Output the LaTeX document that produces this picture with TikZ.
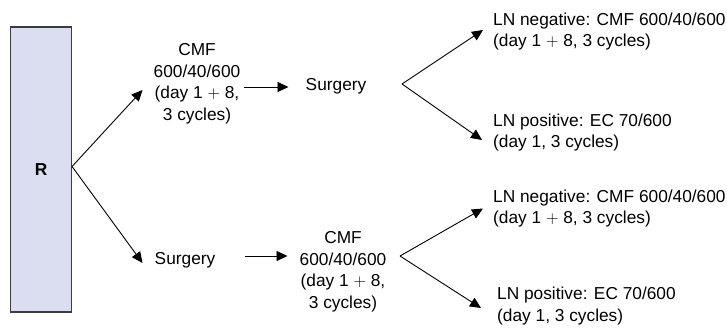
\documentclass[tikz,border=0pt]{standalone}
\usepackage{fontspec}
\setmainfont{Liberation Sans}
\usetikzlibrary{arrows.meta}
\definecolor{rfill}{RGB}{219,222,240}
\definecolor{rline}{RGB}{60,60,60}

\begin{document}
\begin{tikzpicture}[x=1pt, y=-1pt, >={Triangle[length=11pt,width=10pt]},
    every node/.style={font=\fontsize{17.3}{21.5}\selectfont, inner sep=2pt},
    step box/.style={align=center},
    result/.style={align=left, anchor=west},
    arm/.style={->, line width=0.9pt}]
        \useasboundingbox (0,0) rectangle (727,332);

        \node[draw=rline, line width=1.1pt, fill=rfill, minimum width=61pt, minimum height=285pt] (R) at (41,169.5) {\textbf{R}};

        % first arm: chemotherapy, then surgery
        \node[step box] (cmf1) at (197,84) {CMF\\600/40/600\\(day 1 $+$ 8,\\3 cycles)};
        \node[step box] (surg1) at (336,86) {Surgery};
        \coordinate (split1) at (402,84);
        \node[result] (ln1neg) at (491,31.5) {LN negative: CMF 600/40/600\\(day 1 $+$ 8, 3 cycles)};
        \node[result] (ln1pos) at (491,132.5) {LN positive: EC 70/600\\(day 1, 3 cycles)};

        % second arm: surgery, then chemotherapy
        \node[step box] (surg2) at (185,260) {Surgery};
        \node[step box] (cmf2) at (343,272) {CMF\\600/40/600\\(day 1 $+$ 8,\\3 cycles)};
        \coordinate (split2) at (400,256);
        \node[result] (ln2neg) at (491,208.5) {LN negative: CMF 600/40/600\\(day 1 $+$ 8, 3 cycles)};
        \node[result] (ln2pos) at (495,306) {LN positive: EC 70/600\\(day 1, 3 cycles)};

        \draw[arm] ([yshift=3]R.east) -- ([shift={(-9,6)}]cmf1.west);
        \draw[arm] ([yshift=3]R.east) -- ([shift={(-10,3)}]surg2.west);

        \draw[arm] ([shift={(2,3)}]cmf1.east) -- ([shift={(-15,1)}]surg1.west);
        \draw[arm] ([shift={(28,-4)}]surg2.east) -- ([shift={(-10,-16)}]cmf2.west);

        \draw[arm] (split1) -- ([shift={(-8,-1.5)}]ln1neg.west);
        \draw[arm] (split1) -- ([shift={(-9,7.5)}]ln1pos.west);

        \draw[arm] (split2) -- ([shift={(-8,0)}]ln2neg.west);
        \draw[arm] (split2) -- ([shift={(-14,2)}]ln2pos.west);

    \end{tikzpicture}
\end{document}
